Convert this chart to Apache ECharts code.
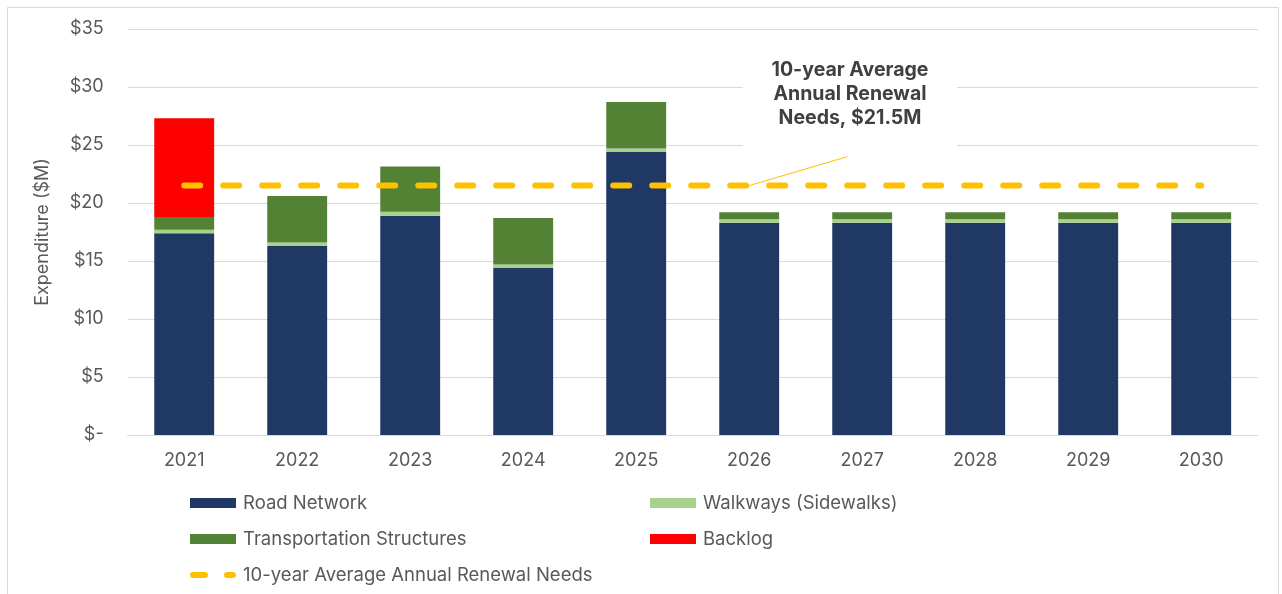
<!DOCTYPE html>
<html>
<head>
<meta charset="utf-8">
<script src="https://cdn.jsdelivr.net/npm/echarts@6/dist/echarts.min.js"></script>
<style>
html,body{margin:0;padding:0;background:#fff;}
#chart{width:1282px;height:594px;}
</style>
</head>
<body>
<div id="chart"></div>
<script>
// ---- Data ----
const years = ['2021','2022','2023','2024','2025','2026','2027','2028','2029','2030'];
const roadNetwork = [17.4, 16.3, 18.9, 14.4, 24.4, 18.3, 18.3, 18.3, 18.3, 18.3];
const walkways = [0.3, 0.3, 0.35, 0.3, 0.3, 0.3, 0.3, 0.3, 0.3, 0.3];
const transportation = [1.1, 4.0, 3.9, 4.0, 4.0, 0.6, 0.6, 0.6, 0.6, 0.6];
const backlog = [8.5, 0, 0, 0, 0, 0, 0, 0, 0, 0];
const averageNeeds = [21.5, 21.5, 21.5, 21.5, 21.5, 21.5, 21.5, 21.5, 21.5, 21.5];
const yTicks = [0, 5, 10, 15, 20, 25, 30, 35];
const leaderLine = [[5, 21.5], [5.87, 24.0]];
const annotationText = '10-year Average\nAnnual Renewal\nNeeds, $21.5M';

const FONT = 'Inter';
const TXT = '#595959';

const chart = echarts.init(document.getElementById('chart'), null, {renderer: 'canvas'});

const legendText = {color: TXT, fontSize: 18.5, fontFamily: FONT, lineHeight: 20, padding: [0, 0, 0, 2]};
const dashIcon = 'path://M3,0 h12 a3,3 0 0 1 0,6 h-12 a3,3 0 0 1 0,-6z M37,0 h6 a3,3 0 0 1 0,6 h-6 a3,3 0 0 1 0,-6z';

const option = {
  backgroundColor: '#ffffff',
  animation: false,
  textStyle: {fontFamily: FONT},
  grid: {left: 127.7, right: 24.3, top: 29, bottom: 159},
  xAxis: [{
    type: 'category',
    data: years,
    axisLine: {lineStyle: {color: '#d9d9d9', width: 1}},
    axisTick: {show: false},
    axisLabel: {color: TXT, fontSize: 18, fontFamily: FONT, margin: 17}
  }, {
    type: 'value',
    min: -0.5, max: 9.5,
    show: false
  }],
  yAxis: {
    type: 'value',
    min: yTicks[0], max: yTicks[yTicks.length - 1], interval: 5,
    name: 'Expenditure ($M)',
    nameLocation: 'middle',
    nameGap: 76,
    nameTextStyle: {color: TXT, fontSize: 18, fontFamily: FONT},
    axisLine: {show: false},
    axisTick: {show: false},
    splitLine: {lineStyle: {color: '#d9d9d9', width: 1}},
    axisLabel: {
      color: TXT, fontSize: 18, fontFamily: FONT, margin: 24,
      formatter: v => v === 0 ? '$-' : '$' + v
    }
  },
  legend: [{
    orient: 'vertical',
    left: 185, top: 488,
    itemWidth: 46, itemHeight: 10, itemGap: 16,
    textStyle: legendText,
    data: [
      {name: 'Road Network', icon: 'rect'},
      {name: 'Transportation Structures', icon: 'rect'}
    ]
  }, {
    orient: 'vertical',
    left: 645, top: 488,
    itemWidth: 46, itemHeight: 10, itemGap: 16,
    textStyle: legendText,
    data: [
      {name: 'Walkways (Sidewalks)', icon: 'rect'},
      {name: 'Backlog', icon: 'rect'}
    ]
  }, {
    orient: 'vertical',
    left: 185, top: 560,
    itemWidth: 46, itemHeight: 6,
    textStyle: legendText,
    data: [
      {name: '10-year Average Annual Renewal Needs', icon: dashIcon, itemStyle: {color: '#FFC000'}}
    ]
  }],
  series: [{
    name: 'Road Network', type: 'bar', stack: 'total', barWidth: '53%',
    itemStyle: {color: '#1F3864'}, data: roadNetwork
  }, {
    name: 'Walkways (Sidewalks)', type: 'bar', stack: 'total',
    itemStyle: {color: '#A9D18E'}, data: walkways
  }, {
    name: 'Transportation Structures', type: 'bar', stack: 'total',
    itemStyle: {color: '#548235'}, data: transportation
  }, {
    name: 'Backlog', type: 'bar', stack: 'total',
    itemStyle: {color: '#FF0000'}, data: backlog
  }, {
    name: '10-year Average Annual Renewal Needs', type: 'line',
    data: averageNeeds, symbol: 'none', z: 5,
    itemStyle: {color: '#FFC000'},
    lineStyle: {color: '#FFC000', width: 6, type: [16, 23], cap: 'round'}
  }, {
    name: 'leader', type: 'line', xAxisIndex: 1,
    data: leaderLine, symbol: 'none', silent: true, z: 6,
    lineStyle: {color: '#FFC000', width: 1}
  }],
  graphic: [{
    type: 'rect', silent: true, z: -10,
    shape: {x: 7.5, y: 7.5, width: 1271, height: 620},
    style: {fill: 'none', stroke: '#d9d9d9', lineWidth: 1}
  }, {
    type: 'rect', silent: true, z: 10,
    shape: {x: 743, y: 52, width: 214, height: 96},
    style: {fill: '#ffffff'}
  }, {
    type: 'text', silent: true, z: 11,
    x: 850, y: 94,
    style: {
      text: annotationText,
      fill: '#404040',
      font: 'bold 19.5px ' + FONT,
      lineHeight: 24,
      textAlign: 'center',
      textVerticalAlign: 'middle'
    }
  }]
};
chart.setOption(option);
</script>
</body>
</html>
